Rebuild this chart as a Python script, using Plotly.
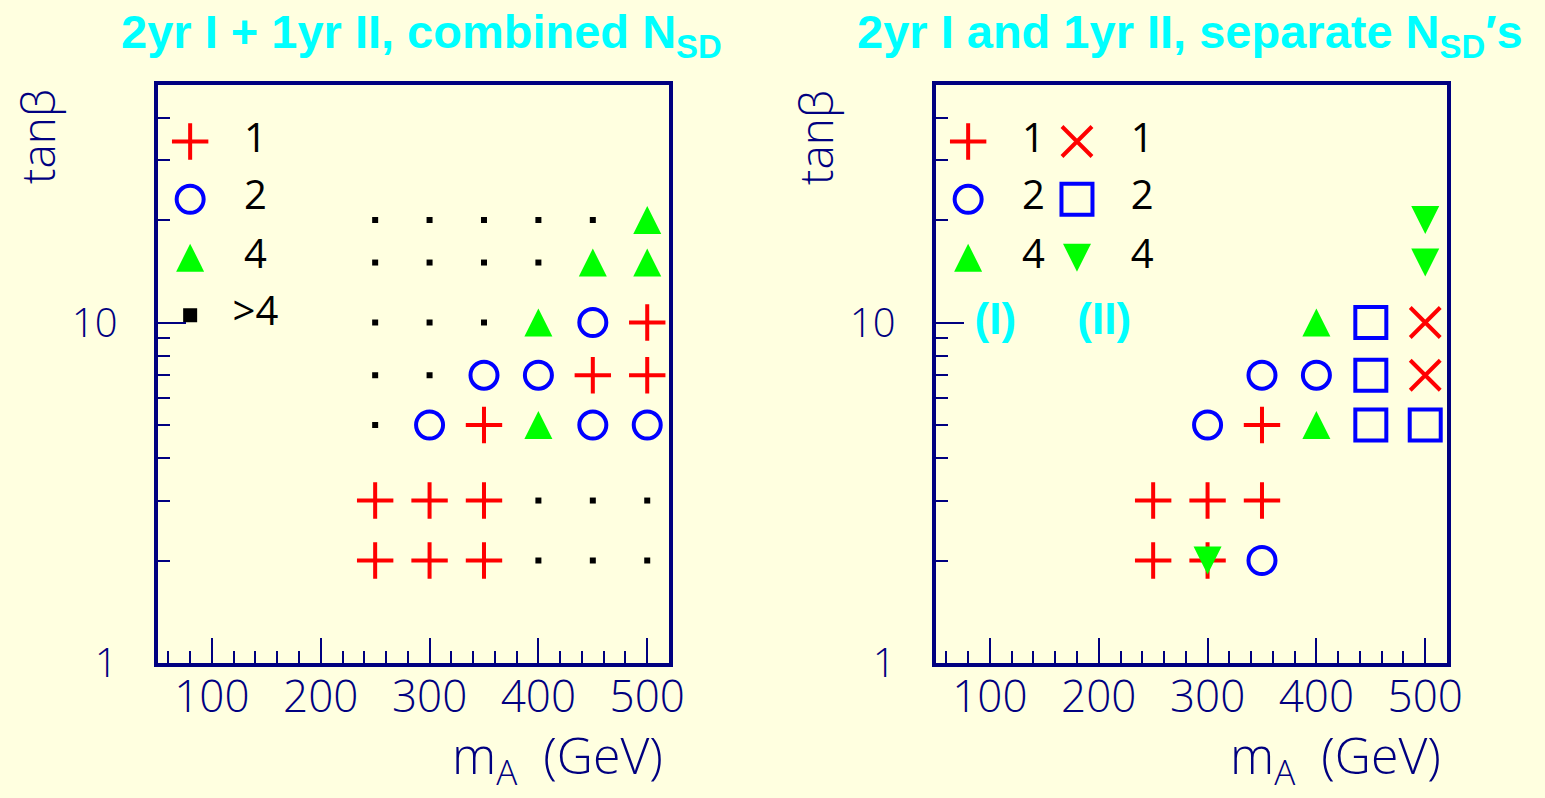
import math
import plotly.graph_objects as go

# ---------------- data ----------------
mA = [250, 300, 350, 400, 450, 500]
tanb = [2, 3, 5, 7, 10, 15, 20]

# combined N_SD (rows follow tanb, columns follow mA)
combined = [
    ["1", "1", "1", ">4", ">4", ">4"],
    ["1", "1", "1", ">4", ">4", ">4"],
    [">4", "2", "1", "4", "2", "2"],
    [">4", ">4", "2", "2", "1", "1"],
    [">4", ">4", ">4", "4", "2", "1"],
    [">4", ">4", ">4", ">4", "4", "4"],
    [">4", ">4", ">4", ">4", ">4", "4"],
]
# separate N_SD, 2yr type I
sep_I = [
    ["1", "1", "2", "", "", ""],
    ["1", "1", "1", "", "", ""],
    ["", "2", "1", "4", "", ""],
    ["", "", "2", "2", "", ""],
    ["", "", "", "4", "", ""],
    ["", "", "", "", "", ""],
    ["", "", "", "", "", ""],
]
# separate N_SD, 1yr type II
sep_II = [
    ["", "4", "", "", "", ""],
    ["", "", "", "", "", ""],
    ["", "", "", "", "2", "2"],
    ["", "", "", "", "2", "1"],
    ["", "", "", "", "2", "1"],
    ["", "", "", "", "", "4"],
    ["", "", "", "", "", "4"],
]

legend_codes_left = ["1", "2", "4", ">4"]
legend_labels_left = ["1", "2", "4", ">4"]
legend_codes_right = ["1", "2", "4"]
legend_rows_tb = [34, 23, 15.5, 10.5]
legend_marker_m = [80, 180]
legend_label_m = [140, 240]
set_label_m = [105, 205]
set_label_tb = 10.0
set_labels = ["(I)", "(II)"]

# ---------------- styles ----------------
NAVY = "#000080"
CYAN = "#00FFFF"
BG = "#FFFFE0"
THIN = "Open Sans"
BOLD = "Liberation Sans"

STYLE_I = {
    "1": dict(symbol="cross-thin", size=26, color="#FF0000", line=dict(width=4, color="#FF0000")),
    "2": dict(symbol="circle-open", size=27, color="#0000FF", line=dict(width=4, color="#0000FF")),
    "4": dict(symbol="arrow-down", angle=180, standoff=14, size=28, color="#00FF00", line=dict(width=0)),
    ">4": dict(symbol="square", size=6, color="#000000", line=dict(width=0)),
}
STYLE_II = {
    "1": dict(symbol="x-thin", size=30, color="#FF0000", line=dict(width=4, color="#FF0000")),
    "2": dict(symbol="square-open", size=31, color="#0000FF", line=dict(width=4, color="#0000FF")),
    "4": dict(symbol="arrow-down", angle=0, standoff=14, size=28, color="#00FF00", line=dict(width=0)),
}

fig = go.Figure()


def add_grid(matrix, styles, xa, ya, codes):
    for code in codes:
        xs, ys = [], []
        for i, tb in enumerate(tanb):
            for j, m in enumerate(mA):
                if matrix[i][j] == code:
                    xs.append(m)
                    ys.append(tb)
        if xs:
            fig.add_trace(go.Scatter(x=xs, y=ys, mode="markers", marker=styles[code],
                                     xaxis=xa, yaxis=ya, showlegend=False, hoverinfo="skip"))


# left panel
add_grid(combined, STYLE_I, "x", "y", [">4", "1", "2", "4"])
# right panel
add_grid(sep_I, STYLE_I, "x2", "y2", ["1", "2", "4"])
add_grid(sep_II, STYLE_II, "x2", "y2", ["1", "2", "4"])

# legend inside left panel
for k, code in enumerate(legend_codes_left):
    st = dict(STYLE_I[code])
    if code == ">4":
        st["size"] = 14
    fig.add_trace(go.Scatter(x=[legend_marker_m[0]], y=[legend_rows_tb[k]], mode="markers",
                             marker=st, xaxis="x", yaxis="y", showlegend=False, hoverinfo="skip"))
fig.add_trace(go.Scatter(x=[legend_label_m[0]] * 4, y=legend_rows_tb, mode="text",
                         text=legend_labels_left, textposition="middle center",
                         textfont=dict(family=THIN, size=40, color="#000000"),
                         xaxis="x", yaxis="y", showlegend=False, hoverinfo="skip"))

# legend inside right panel
for col, styles in enumerate([STYLE_I, STYLE_II]):
    for k, code in enumerate(legend_codes_right):
        fig.add_trace(go.Scatter(x=[legend_marker_m[col]], y=[legend_rows_tb[k]], mode="markers",
                                 marker=styles[code], xaxis="x2", yaxis="y2",
                                 showlegend=False, hoverinfo="skip"))
    fig.add_trace(go.Scatter(x=[legend_label_m[col]] * 3, y=legend_rows_tb[:3], mode="text",
                             text=legend_codes_right, textposition="middle center",
                             textfont=dict(family=THIN, size=40, color="#000000"),
                             xaxis="x2", yaxis="y2", showlegend=False, hoverinfo="skip"))
fig.add_trace(go.Scatter(x=set_label_m, y=[set_label_tb] * 2, mode="text", text=set_labels,
                         textposition="middle center",
                         textfont=dict(family=BOLD, size=44, color=CYAN, weight="bold"),
                         xaxis="x2", yaxis="y2", showlegend=False, hoverinfo="skip"))

W, H = 1545, 798
left_dom = [157.5 / W, 669 / W]
right_dom = [935.5 / W, 1447 / W]
y_dom = [1 - 663 / H, 1 - 84.5 / H]

xcommon = dict(range=[50, 520], showline=True, linewidth=4, linecolor=NAVY, mirror=True,
               ticks="inside", ticklen=25, tickwidth=2, tickcolor=NAVY,
               tickmode="linear", tick0=0, dtick=100,
               minor=dict(tick0=0, dtick=20, ticks="inside", ticklen=12, tickwidth=2, tickcolor=NAVY),
               showgrid=False, zeroline=False, automargin=False,
               tickfont=dict(family=THIN, size=44, color=NAVY, weight=300),
               ticklabelstandoff=-8)
ycommon = dict(type="log", range=[0, math.log10(50)], showline=True, linewidth=4, linecolor=NAVY,
               mirror=True, ticks="inside", ticklen=28, tickwidth=2, tickcolor=NAVY,
               dtick=1,
               minor=dict(dtick="D1", ticks="inside", ticklen=12, tickwidth=2, tickcolor=NAVY),
               showgrid=False, zeroline=False, automargin=False,
               tickfont=dict(family=THIN, size=40, color=NAVY, weight=300),
               ticklabelstandoff=28, domain=y_dom)

fig.update_layout(
    width=W, height=H, margin=dict(l=0, r=0, t=0, b=0, autoexpand=False),
    paper_bgcolor=BG, plot_bgcolor=BG, showlegend=False,
    xaxis=dict(domain=left_dom, anchor="y", **xcommon),
    yaxis=dict(anchor="x", **ycommon),
    xaxis2=dict(domain=right_dom, anchor="y2", **xcommon),
    yaxis2=dict(anchor="x2", **ycommon),
)

annots = []
for cx, txt in [(422, "2yr I + 1yr II, combined N<sub>SD</sub>"),
                (1190, "2yr I and 1yr II, separate N<sub>SD</sub>′s")]:
    annots.append(dict(x=cx / W, y=1 - 3 / H, xref="paper", yref="paper", xanchor="center",
                       yanchor="top", showarrow=False, text=txt,
                       font=dict(family=BOLD, size=47, color=CYAN, weight="bold")))
for cx in [37, 815]:
    annots.append(dict(x=cx / W, y=1 - 137 / H, xref="paper", yref="paper", xanchor="center",
                       yanchor="middle", showarrow=False, text="tanβ", textangle=-90,
                       font=dict(family=THIN, size=46, color=NAVY, weight=300)))
for rx in [665, 1443]:
    annots.append(dict(x=rx / W, y=1 - 797 / H, xref="paper", yref="paper", xanchor="right",
                       yanchor="bottom", showarrow=False, text="m<sub>A</sub>\u00a0\u00a0(GeV)",
                       font=dict(family=THIN, size=50, color=NAVY, weight=300)))
fig.update_layout(annotations=annots)

fig.write_html("out.html")
